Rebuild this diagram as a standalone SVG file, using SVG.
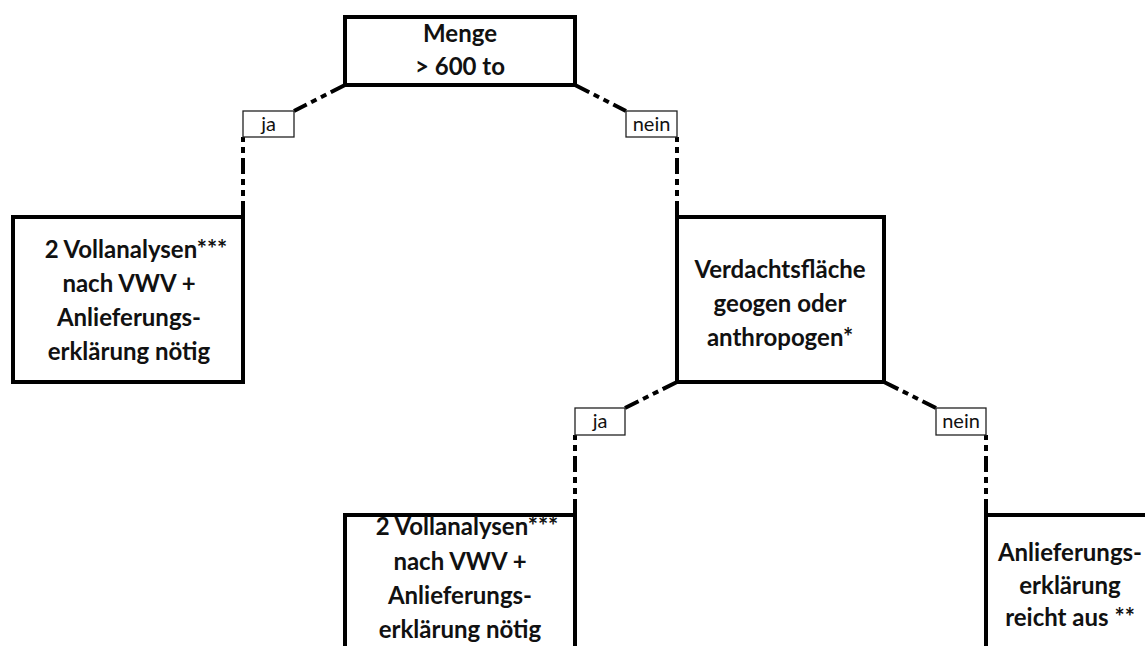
<svg xmlns="http://www.w3.org/2000/svg" width="1145" height="646" viewBox="0 0 1145 646">
<style>
.box{fill:#fff;stroke:#000;stroke-width:4}
.lbl{fill:#fff;stroke:#222;stroke-width:1.3}
.t{font-family:Lato,"Liberation Sans",sans-serif;font-weight:bold;font-size:24px;fill:#111;text-anchor:middle}
.l{font-family:Lato,"Liberation Sans",sans-serif;font-size:20px;fill:#111;text-anchor:middle}
.c{fill:none;stroke:#000;stroke-width:4;stroke-dasharray:16 5 6 5 6 5}
</style>
<rect width="1145" height="646" fill="#fff"/>
<g id="connectors">
<path class="c" d="M345,85 L294,111"/>
<path class="c" d="M243,217 L243,137"/>
<path class="c" d="M575,85 L626,111"/>
<path class="c" d="M677,217 L677,137"/>
<path class="c" d="M677,382 L625,408"/>
<path class="c" d="M575,515 L575,435"/>
<path class="c" d="M884,382 L936,408"/>
<path class="c" d="M986,515 L986,435"/>
</g>
<g id="lbl-ja1"><rect class="lbl" x="243" y="111" width="51" height="26"/><text class="l" x="268.5" y="131">ja</text></g>
<g id="lbl-nein1"><rect class="lbl" x="626" y="111" width="51" height="26"/><text class="l" x="651.5" y="131">nein</text></g>
<g id="lbl-ja2"><rect class="lbl" x="575" y="408" width="50" height="27"/><text class="l" x="600" y="428">ja</text></g>
<g id="lbl-nein2"><rect class="lbl" x="936" y="408" width="50" height="27"/><text class="l" x="961" y="428">nein</text></g>
<g id="menge"><rect class="box" x="345" y="17" width="230" height="68"/>
<text class="t" x="460" y="42">Menge</text><text class="t" x="460" y="75">&gt; 600 to</text></g>
<g id="voll1"><rect class="box" x="13" y="217" width="230" height="165"/>
<text class="t" x="136" y="258">2 Vollanalysen***</text>
<text class="t" x="129" y="292">nach VWV +</text>
<text class="t" x="129" y="326">Anlieferungs-</text>
<text class="t" x="129" y="360">erklärung nötig</text></g>
<g id="verdacht"><rect class="box" x="677" y="217" width="207" height="165"/>
<text class="t" x="780" y="278">Verdachtsfläche</text>
<text class="t" x="780" y="312">geogen oder</text>
<text class="t" x="780" y="346">anthropogen*</text></g>
<g id="voll2"><rect class="box" x="345" y="515" width="230" height="150"/>
<text class="t" x="467" y="535">2 Vollanalysen***</text>
<text class="t" x="460" y="570">nach VWV +</text>
<text class="t" x="460" y="604">Anlieferungs-</text>
<text class="t" x="460" y="638">erklärung nötig</text></g>
<g id="anlief"><rect class="box" x="986" y="515" width="180" height="150"/>
<text class="t" x="1070" y="561">Anlieferungs-</text>
<text class="t" x="1070" y="594">erklärung</text>
<text class="t" x="1070" y="626">reicht aus **</text></g>
</svg>
